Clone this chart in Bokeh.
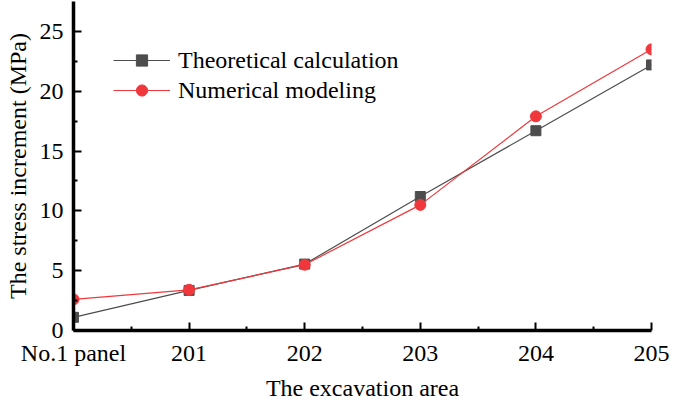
from bokeh.plotting import figure
from bokeh.models import FixedTicker, Range1d, Legend, LegendItem
from bokeh.embed import file_html
from bokeh.resources import INLINE

categories = ["No.1 panel", "201", "202", "203", "204", "205"]
theoretical = [1.1, 3.35, 5.55, 11.2, 16.7, 22.2]
numerical = [2.6, 3.4, 5.5, 10.5, 17.9, 23.5]
y_ticks = [0, 5, 10, 15, 20, 25]

xs = list(range(len(categories)))
FONT = "Liberation Serif"
FS = "24px"

p = figure(width=669, height=403, output_backend="svg", toolbar_location=None,
           x_range=Range1d(0, 5), y_range=Range1d(0, 27.5),
           min_border_left=73, min_border_right=18, min_border_top=1, min_border_bottom=72)
p.outline_line_color = None
p.grid.visible = False
p.background_fill_color = "white"

gray = "#4d4d4d"
red = "#f0383c"
l1 = p.line(xs, theoretical, line_color=gray, line_width=1.2)
m1 = p.scatter(xs, theoretical, marker="square", size=10, fill_color=gray, line_color=gray)
l2 = p.line(xs, numerical, line_color=red, line_width=1.2)
m2 = p.scatter(xs, numerical, marker="circle", size=11, fill_color=red, line_color=red)

for ax in (p.xaxis[0], p.yaxis[0]):
    ax.axis_line_width = 3.5
    ax.axis_line_color = "black"
    ax.major_tick_in = 8
    ax.major_tick_out = 0
    ax.minor_tick_in = 4
    ax.minor_tick_out = 0
    ax.major_tick_line_width = 2
    ax.minor_tick_line_width = 2
    ax.major_label_text_font = FONT
    ax.major_label_text_font_size = FS
    ax.major_label_text_color = "black"
    ax.axis_label_text_font = FONT
    ax.axis_label_text_font_size = FS
    ax.axis_label_text_font_style = "normal"
    ax.axis_label_text_color = "black"

p.xaxis.ticker = FixedTicker(ticks=xs, minor_ticks=[0.5, 1.5, 2.5, 3.5, 4.5])
p.xaxis.major_label_overrides = {i: c for i, c in enumerate(categories)}
p.xaxis.major_label_standoff = 9
p.xaxis.axis_label = "The excavation area"
p.xaxis.axis_label_standoff = 6

p.yaxis.ticker = FixedTicker(ticks=y_ticks, minor_ticks=[2.5, 7.5, 12.5, 17.5, 22.5])
p.yaxis.major_label_standoff = 10
p.yaxis.axis_label = "The stress increment (MPa)"
p.yaxis.axis_label_standoff = 6

legend = Legend(items=[
    LegendItem(label="Theoretical calculation", renderers=[l1, m1]),
    LegendItem(label="Numerical modeling", renderers=[l2, m2]),
], location=(40, 226))
legend.label_text_font = FONT
legend.label_text_font_size = FS
legend.label_text_color = "black"
legend.glyph_width = 57
legend.glyph_height = 28
legend.label_height = 28
legend.label_standoff = 8
legend.spacing = 2
legend.padding = 0
legend.margin = 0
legend.border_line_color = None
legend.background_fill_alpha = 0
p.add_layout(legend)

open("out.html", "w").write(file_html(p, INLINE))
